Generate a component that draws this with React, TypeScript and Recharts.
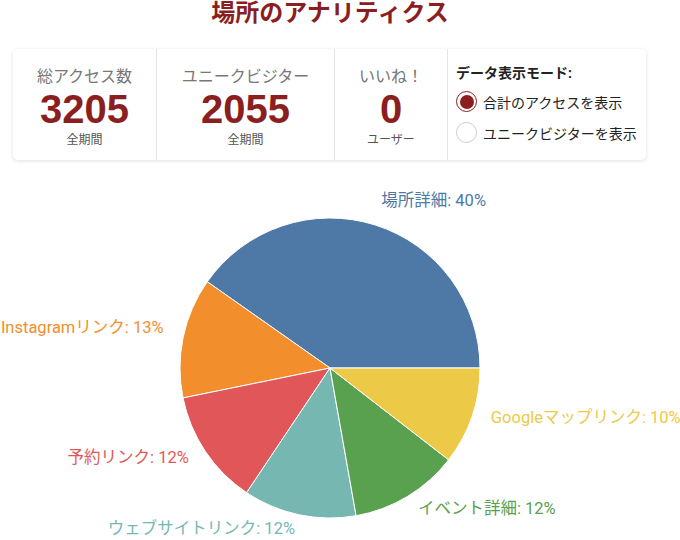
import { Cell, Pie, PieChart } from "recharts"

const categories = ["場所詳細", "Instagramリンク", "予約リンク", "ウェブサイトリンク", "イベント詳細", "Googleマップリンク"]
const visits = [1290, 415, 398, 390, 376, 336]
const colors = ["#4e79a7", "#f28e2b", "#e15759", "#76b7b2", "#59a14f", "#edc948"]

const statLabels = ["総アクセス数", "ユニークビジター", "いいね！"]
const statValues = [3205, 2055, 0]
const statSubs = ["全期間", "全期間", "ユーザー"]
const modeOptions = ["合計のアクセスを表示", "ユニークビジターを表示"]

const pieData = categories.map((name, i) => ({ name, value: visits[i] }))

const accent = "#8b1e1e"
const font = "Roboto, 'Noto Sans CJK JP', sans-serif"
const cellWidths = [144, 178, 113]

function renderLabel(props: any) {
  const { x, y, textAnchor, fill, name, percent } = props
  return (
    <text x={x} y={y} textAnchor={textAnchor} fill={fill} fontSize={16.5} fontFamily={font}>
      {`${name}: ${(percent * 100).toFixed(0)}%`}
    </text>
  )
}

export default function App() {
  return (
    <div style={{ position: "absolute", left: 0, top: 0, width: 680, height: 540, background: "#fff", fontFamily: font }}>
      <div style={{ position: "absolute", top: 0, left: 0, width: 660, textAlign: "center", fontSize: 24, lineHeight: "26px", fontWeight: 700, color: accent }}>
        場所のアナリティクス
      </div>

      <div
        style={{
          position: "absolute", left: 13, top: 49, width: 633, height: 111,
          display: "flex", background: "#fff", borderRadius: 5,
          boxShadow: "0 1px 4px rgba(0,0,0,0.12)",
        }}
      >
        {statLabels.map((label, i) => (
          <div
            key={label}
            style={{
              width: cellWidths[i], height: 111, borderRight: "1px solid #e4e4e4",
              display: "flex", flexDirection: "column", alignItems: "center", paddingTop: 18, boxSizing: "border-box",
            }}
          >
            <div style={{ fontSize: 16, lineHeight: "20px", color: "#777" }}>{label}</div>
            <div style={{ fontSize: 40, lineHeight: "44px", fontWeight: 700, color: accent, fontFamily: "'Liberation Sans', Arial, sans-serif" }}>
              {statValues[i]}
            </div>
            <div style={{ fontSize: 12, lineHeight: "18px", color: "#555" }}>{statSubs[i]}</div>
          </div>
        ))}
        <div style={{ flex: 1, paddingLeft: 8, paddingTop: 15, boxSizing: "border-box" }}>
          <div style={{ fontSize: 14, lineHeight: "18px", fontWeight: 700, color: "#222", marginBottom: 4 }}>データ表示モード:</div>
          {modeOptions.map((opt, i) => (
            <div key={opt} style={{ display: "flex", alignItems: "center", height: 31 }}>
              <div
                style={{
                  width: 21, height: 21, borderRadius: "50%", boxSizing: "border-box",
                  border: i === 0 ? `1px solid ${accent}` : "1px solid #ccc",
                  display: "flex", alignItems: "center", justifyContent: "center",
                }}
              >
                {i === 0 && <div style={{ width: 14, height: 14, borderRadius: "50%", background: accent }} />}
              </div>
              <span style={{ fontSize: 14, color: "#222", marginLeft: 6 }}>{opt}</span>
            </div>
          ))}
        </div>
      </div>

      <div style={{ position: "absolute", left: 0, top: 180 }}>
        <PieChart width={680} height={360}>
          <Pie
            data={pieData}
            dataKey="value"
            nameKey="name"
            cx={325}
            cy={183}
            outerRadius={150}
            stroke="#fff"
            strokeWidth={1}
            labelLine={false}
            label={renderLabel}
            isAnimationActive={false}
          >
            {pieData.map((d, i) => (
              <Cell key={d.name} fill={colors[i]} />
            ))}
          </Pie>
        </PieChart>
      </div>
    </div>
  )
}
